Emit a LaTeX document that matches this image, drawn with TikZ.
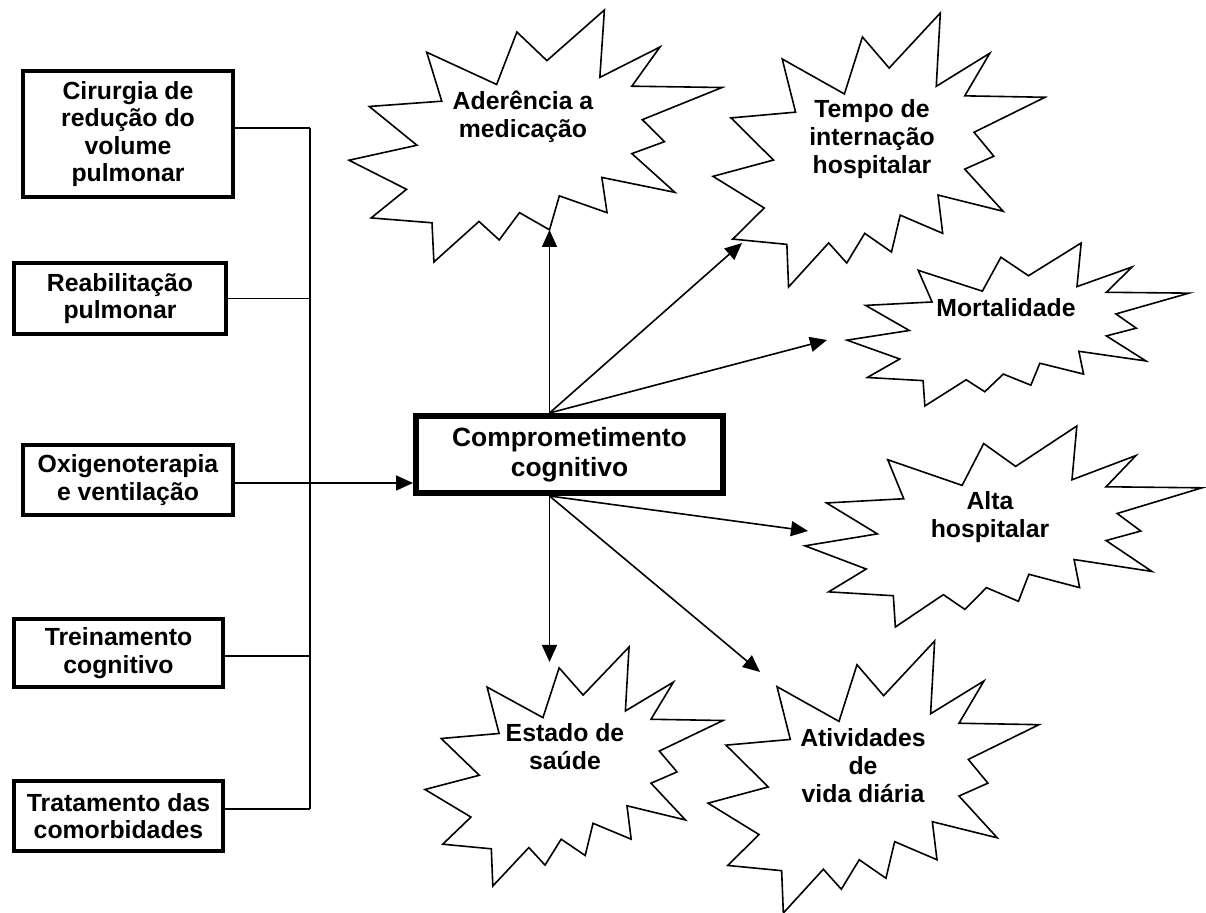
\documentclass[tikz,border=0pt]{standalone}
\usepackage{fontspec}
\setmainfont{Liberation Sans}
\usetikzlibrary{arrows.meta}
%% Explosion outline; corners given in px: left, top, right, bottom
\newcommand{\burst}[4]{%
  \filldraw[fill=white,line width=0.8pt,shift={(#1,#2)},
            xscale=(#3-#1)/100,yscale=(#4-#2)/100]
    (53.06,20.10) -- (68.47,0) -- (67.25,26.75) -- (83.37,14.69) -- (75.83,30.24)
    -- (100,30.76) -- (78.63,43.53) -- (84.58,52.27) -- (75.83,56.99) -- (87.39,72.37)
    -- (67.78,66.44) -- (69.18,80.42) -- (56.39,73.77) -- (53.76,87.23) -- (45.70,80.42)
    -- (40.28,91.26) -- (34.85,83.91) -- (22.76,100) -- (22.25,84.44) -- (5.95,82.52)
    -- (15.42,71.16) -- (0,59.62) -- (18.22,53.67) -- (5.43,38.29) -- (24.87,36.19)
    -- (20.84,16.78) -- (39.58,29.55) -- (45.01,8.74) -- cycle;}

\begin{document}
\begin{tikzpicture}[x=0.5pt,y=-0.5pt,
  lbox/.style={draw,line width=2pt,inner sep=0pt,align=center,
               font=\bfseries\fontsize{12.4}{13.8}\selectfont},
  cbox/.style={draw,line width=3pt,inner sep=0pt,align=center,
               minimum width=153.5pt,minimum height=38.5pt,
               font=\bfseries\fontsize{13.2}{15}\selectfont},
  btxt/.style={align=center,inner sep=0pt,font=\bfseries\fontsize{12.4}{14}\selectfont},
  link/.style={line width=0.8pt},
  arr/.style={link,-{Triangle[length=8.5pt,width=7.5pt]}},
]
  \path[use as bounding box,fill=white] (0,0) rectangle (1206,913);
  \node[lbox,minimum width=105pt,minimum height=63pt] (cir) at (128,134) {Cirurgia de\\redução do\\volume\\pulmonar};
  \node[lbox,minimum width=106pt,minimum height=35.5pt] (reab) at (120,298.5) {Reabilitação\\pulmonar};
  \node[lbox,minimum width=105pt,minimum height=35pt] (oxi) at (128,480) {Oxigenoterapia\\e ventilação};
  \node[lbox,minimum width=104.5pt,minimum height=34pt] (trein) at (118.5,653) {Treinamento\\cognitivo};
  \node[lbox,minimum width=104.5pt,minimum height=35pt] (trat) at (118.5,816) {Tratamento das\\comorbidades};
  \node[cbox] (comp) at (569.5,454.5) {Comprometimento\\cognitivo};

  \coordinate (bus-top) at (310,128);
  \coordinate (bus-bot) at (310,809);
  \draw[link] (bus-top) -- (bus-bot);
  \draw[link] ([yshift=3pt]cir.east) -- (bus-top);
  \draw[link] (reab.east) -- (reab.east -| bus-top);
  \draw[link] ([yshift=-1.5pt]trein.east) -- ([yshift=-1.5pt]trein.east -| bus-top);
  \draw[link] ([yshift=3.5pt]trat.east) -- (bus-bot);
  \draw[arr] ([yshift=-1.5pt]oxi.east) -- ([yshift=-1.5pt]oxi.east -| comp.west);

  \burst{349}{10}{722}{262}
  \node[btxt] (ader) at (523,117) {Aderência a\\medicação};
  \burst{713}{13}{1045}{287}
  \node[btxt] (tempo) at (872,139) {Tempo de\\internação\\hospitalar};
  \burst{847}{243}{1189}{406}
  \node[btxt] (mort) at (1006,308) {Mortalidade};
  \burst{805}{426}{1202}{627}
  \node[btxt] (alta) at (990,517) {Alta\\hospitalar};
  \burst{425}{647}{723}{886}
  \node[btxt] (estado) at (565,747) {Estado de\\saúde};
  \burst{708}{641}{1039}{913}
  \node[btxt] (ativ) at (863,766) {Atividades\\de\\vida diária};

  \coordinate (from-top) at ([xshift=-10pt]comp.north);
  \coordinate (from-bot) at ([xshift=-10pt]comp.south);
  \coordinate (to-ader) at (549.5,230);
  \coordinate (to-tempo) at (742,243);
  \coordinate (to-mort) at (827,340);
  \coordinate (to-alta) at (808,531);
  \coordinate (to-estado) at (549.5,662);
  \coordinate (to-ativ) at (760,672);
  \draw[arr] (from-top) -- (to-ader);
  \draw[arr] (from-top) -- (to-tempo);
  \draw[arr] (from-top) -- (to-mort);
  \draw[arr] (from-bot) -- (to-alta);
  \draw[arr] (from-bot) -- (to-estado);
  \draw[arr] (from-bot) -- (to-ativ);
\end{tikzpicture}
\end{document}
